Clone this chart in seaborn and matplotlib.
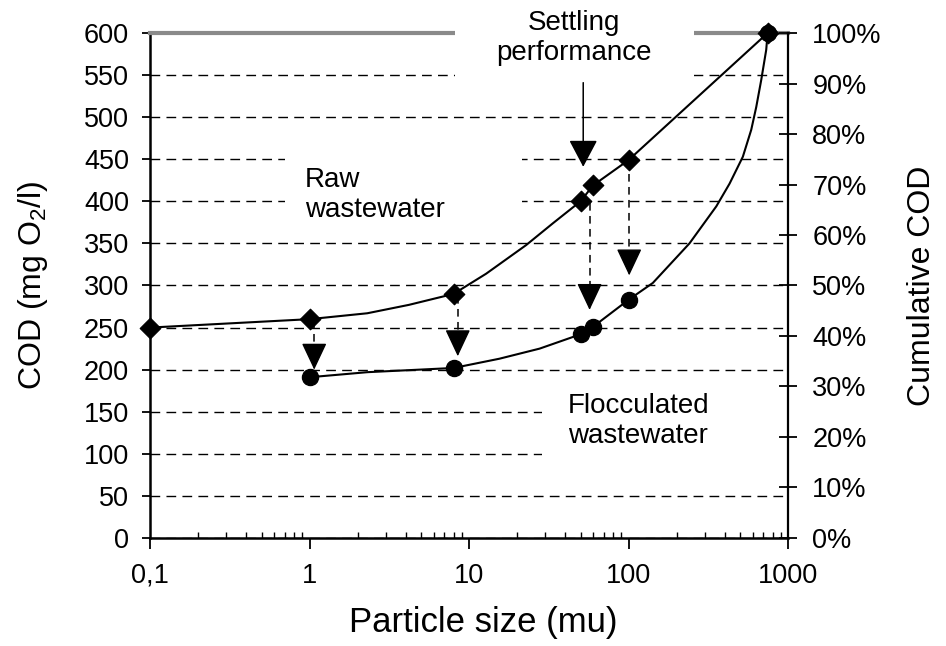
import matplotlib
matplotlib.use("Agg")
import matplotlib.pyplot as plt
import matplotlib.ticker as mticker
from matplotlib.patches import Rectangle
import seaborn as sns

# -----------------------------------------------------------------------------
# DATA
# -----------------------------------------------------------------------------

# measured points (markers)
size_raw = [0.1, 1, 8, 50, 60, 100, 745]
cod_raw = [250, 260, 290, 400, 419, 449, 600]
size_floc = [1, 8, 50, 60, 100, 745]
cod_floc = [191, 202, 242, 251, 283, 600]

# traced smooth curves through the points
trace_raw_size = [0.1, 1, 2.3, 4.2, 8, 12.8, 22.8, 33.6, 50, 60, 100, 745]
trace_raw_cod = [250, 260, 267, 277, 290, 314, 348, 374, 400, 419, 449, 600]
trace_floc_size = [1, 2.3, 8, 15.5, 27.7, 50, 60, 100, 142, 241, 355, 430,
                   521, 588, 632, 679, 730, 745]
trace_floc_cod = [191, 197, 202, 213, 225, 242, 251, 283, 303, 350, 394, 421,
                  453, 485, 512, 544, 580, 600]

# settling arrows (dashed, raw -> flocculated)
arrow_size = [1.07, 8.5, 57, 101]
arrow_from = [258, 288, 398, 448]
arrow_to = [200, 216, 271, 312]

x_ticks = [0.1, 1, 10, 100, 1000]
x_tick_labels = ["0,1", "1", "10", "100", "1000"]
y_ticks = list(range(0, 601, 50))
pct_ticks = [i / 10 for i in range(11)]

HEAD = 27  # arrow head length in COD units

# -----------------------------------------------------------------------------
# STYLE
# -----------------------------------------------------------------------------

sns.set_theme(style="ticks")
plt.rcParams["font.family"] = ["Liberation Sans", "DejaVu Sans"]
plt.rcParams["mathtext.default"] = "regular"

fig = plt.figure(figsize=(9.46, 6.46), dpi=100)
ax = fig.add_axes([0.1586, 0.1672, 0.6744, 0.7817])
ax2 = ax.twinx()

# -----------------------------------------------------------------------------
# CURVES
# -----------------------------------------------------------------------------

sns.lineplot(x=trace_raw_size, y=trace_raw_cod, color="black", lw=1.5, ax=ax, zorder=4)
sns.lineplot(x=trace_floc_size, y=trace_floc_cod, color="black", lw=1.5, ax=ax, zorder=4)
sns.scatterplot(x=size_raw, y=cod_raw, marker="D", s=110, color="black",
                edgecolor="black", ax=ax, zorder=5, clip_on=False)
sns.scatterplot(x=size_floc, y=cod_floc, marker="o", s=135, color="black",
                edgecolor="black", ax=ax, zorder=5, clip_on=False)

head_style = "-|>,head_length=0.85,head_width=0.4"
for xs, y0, y1 in zip(arrow_size, arrow_from, arrow_to):
    ax.plot([xs, xs], [y0, y1 + HEAD], color="black", lw=1.1,
            linestyle=(0, (5, 3.5)), zorder=6)
    ax.annotate("", xy=(xs, y1), xytext=(xs, y1 + HEAD),
                arrowprops=dict(arrowstyle=head_style, mutation_scale=20,
                                color="black", lw=1.0, shrinkA=0, shrinkB=0),
                zorder=6)

# settling performance arrow
ax.annotate("", xy=(52, 441), xytext=(52, 541),
            arrowprops=dict(arrowstyle="-|>,head_length=0.85,head_width=0.45",
                            mutation_scale=20, color="black", lw=1.1,
                            shrinkA=0, shrinkB=0),
            zorder=6, annotation_clip=False)

# -----------------------------------------------------------------------------
# AXES
# -----------------------------------------------------------------------------

ax.set_xscale("log")
ax.set_xlim(0.1, 1000)
ax.set_ylim(0, 600)
ax.set_xticks(x_ticks)
ax.set_xticklabels(x_tick_labels)
ax.set_yticks(y_ticks)
ax.xaxis.set_minor_locator(mticker.LogLocator(base=10, subs=range(2, 10)))
ax.xaxis.set_minor_formatter(mticker.NullFormatter())

ax.set_axisbelow(True)
ax.yaxis.grid(True, color="black", lw=1.0, linestyle=(0, (7, 4.5)))
ax.xaxis.grid(False)

for side in ["left", "bottom"]:
    ax.spines[side].set_color("black")
    ax.spines[side].set_linewidth(1.8)
ax.spines["right"].set_visible(False)
ax.spines["top"].set_color("#8a8a8a")
ax.spines["top"].set_linewidth(3)

ax.tick_params(axis="y", which="major", direction="out", length=6, width=1.3,
               labelsize=19.5, pad=9, colors="black")
ax.tick_params(axis="x", which="major", direction="out", length=8, width=1.3,
               labelsize=19.5, pad=10, colors="black")
ax.tick_params(axis="x", which="minor", direction="in", length=4, width=1.0,
               colors="black")

ax2.set_ylim(0, 1)
ax2.set_yticks(pct_ticks)
ax2.yaxis.set_major_formatter(mticker.PercentFormatter(xmax=1, decimals=0))
for side in ["left", "top", "bottom"]:
    ax2.spines[side].set_visible(False)
ax2.spines["right"].set_color("black")
ax2.spines["right"].set_linewidth(1.6)
ax2.tick_params(axis="y", direction="inout", length=13, width=1.3,
                labelsize=19.5, pad=11, colors="black")
ax2.grid(False)

ax.set_xlabel("Particle size (mu)", fontsize=25, color="black")
ax.set_ylabel("COD (mg O$_2$/l)", fontsize=23, color="black")
ax2.set_ylabel("Cumulative COD", fontsize=23, color="black")
ax.xaxis.set_label_coords(0.522, -0.135)
ax.yaxis.set_label_coords(-0.157, 0.5)
ax2.yaxis.set_label_coords(1.186, 0.5)

# -----------------------------------------------------------------------------
# TEXT BOXES (white backing that breaks the grid lines)
# -----------------------------------------------------------------------------

for (x0, y0, w, h, z) in [(0.2116, 0.606, 0.3715, 0.202, 1),
                          (0.478, 0.891, 0.3747, 0.18, 2.6),
                          (0.6144, 0.125, 0.383, 0.178, 1)]:
    ax.add_patch(Rectangle((x0, y0), w, h, transform=ax.transAxes,
                           facecolor="white", edgecolor="none",
                           zorder=z, clip_on=False))

ax.text(0.243, 0.679, "Raw\nwastewater", transform=ax.transAxes,
        ha="left", va="center", fontsize=20, color="black", zorder=7)
ax.text(0.6646, 0.99, "Settling\nperformance", transform=ax.transAxes,
        ha="center", va="center", fontsize=20, color="black", zorder=7)
ax.text(0.655, 0.2317, "Flocculated\nwastewater", transform=ax.transAxes,
        ha="left", va="center", fontsize=20, color="black", zorder=7)

plt.savefig("out.png", dpi=100)
plt.close()
